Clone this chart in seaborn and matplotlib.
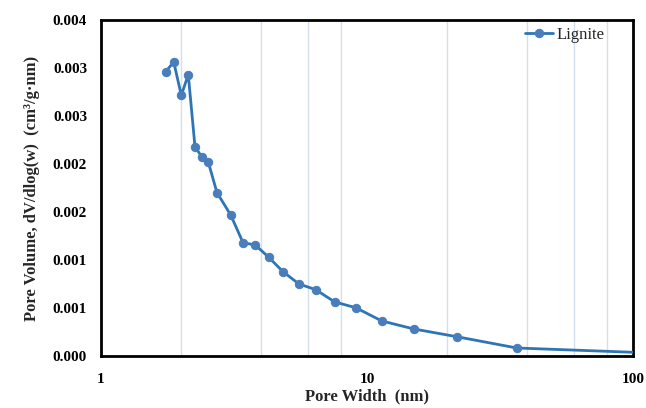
import matplotlib
matplotlib.use("Agg")
import matplotlib.pyplot as plt
import matplotlib.ticker as mticker
import seaborn as sns
import pandas as pd

pore_width = [1.751, 1.877, 2.004, 2.129, 2.256, 2.391, 2.532, 2.730, 3.073, 3.420,
              3.803, 4.271, 4.846, 5.551, 6.414, 7.559, 9.069, 11.36, 15.02, 21.74,
              36.54, 100.0]
pore_volume = [0.002962, 0.003063, 0.002716, 0.002930, 0.002180, 0.002076, 0.002018,
               0.001701, 0.001469, 0.001180, 0.001156, 0.001028, 0.000875, 0.000750,
               0.000691, 0.000563, 0.000503, 0.000365, 0.000281, 0.000201,
               0.0000833, 0.0000385]
series_name = "Lignite"
y_ticks = [0.0, 0.0005, 0.001, 0.0015, 0.002, 0.0025, 0.003, 0.0035]
y_tick_labels = ["0.000", "0.001", "0.001", "0.002", "0.002", "0.003", "0.003", "0.004"]
x_ticks = [1, 10, 100]
x_tick_labels = ["1", "10", "100"]
grid_positions = [2, 4, 6, 8, 20, 40, 60, 80]

sns.set_style("white")
plt.rcParams['font.family'] = ['Liberation Serif', 'DejaVu Serif']

df = pd.DataFrame({"w": pore_width, "v": pore_volume, "s": series_name})

fig = plt.figure(figsize=(6.46, 4.08), dpi=100)
ax = fig.add_axes([0.1563, 0.1275, 0.980 - 0.1563, 0.951 - 0.1275])

line_color = "#2E75B6"
marker_color = "#4A7EBB"
sns.lineplot(data=df, x="w", y="v", hue="s", palette=[line_color], ax=ax,
             linewidth=2.0, marker="o", markersize=6,
             markerfacecolor=marker_color, markeredgecolor=marker_color,
             markevery=list(range(len(pore_width) - 1)), zorder=3)

ax.set_xscale("log")
ax.set_xlim(1, 100)
ax.set_ylim(0, 0.0035)

ax.xaxis.set_major_locator(mticker.FixedLocator(x_ticks))
ax.xaxis.set_major_formatter(mticker.FixedFormatter(x_tick_labels))
ax.xaxis.set_minor_locator(mticker.FixedLocator(grid_positions))
ax.xaxis.set_minor_formatter(mticker.NullFormatter())
ax.yaxis.set_major_locator(mticker.FixedLocator(y_ticks))
ax.yaxis.set_major_formatter(mticker.FixedFormatter(y_tick_labels))

ax.grid(False)
ax.grid(True, which="minor", axis="x", color="#D3DEEE", linewidth=1.0, zorder=0)

ax.tick_params(axis="both", which="major", direction="in", length=4, width=1.3,
               labelsize=11, colors="black")
ax.tick_params(axis="x", which="major", pad=12, top=False)
ax.tick_params(axis="y", which="major", pad=10, right=False)
ax.tick_params(axis="both", which="minor", length=0)
for lbl in ax.get_xticklabels() + ax.get_yticklabels():
    lbl.set_fontweight("bold")

for sp in ax.spines.values():
    sp.set_visible(True)
    sp.set_color("black")
    sp.set_linewidth(2.0)

ax.set_xlabel("Pore Width  (nm)", fontsize=12, fontweight="bold", labelpad=2)
ax.set_ylabel("Pore Volume, dV/dlog(w)  (cm³/g·nm)", fontsize=12, fontweight="bold",
              labelpad=9)

leg = ax.legend(loc="upper right", frameon=False, fontsize=12,
                bbox_to_anchor=(0.975, 1.025), handlelength=1.7, handletextpad=0.2)
ax.set_axisbelow(True)

fig.savefig("out.png", dpi=100)
